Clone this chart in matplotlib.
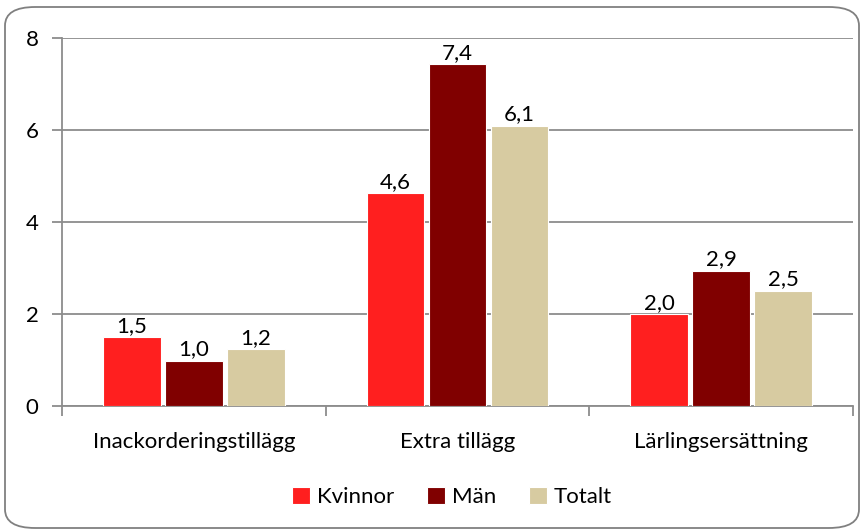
import matplotlib.pyplot as plt
import numpy as np
from matplotlib.patches import FancyBboxPatch

plt.rcParams['font.family'] = ['Lato', 'DejaVu Sans']

# data
categories = ['Inackorderingstillägg', 'Extra tillägg', 'Lärlingsersättning']
series_names = ['Kvinnor', 'Män', 'Totalt']
kvinnor = [1.5, 4.63, 2.0]
man = [0.98, 7.43, 2.94]
totalt = [1.23, 6.09, 2.51]
colors = ['#FF1F1F', '#800000', '#D7CBA1']

fs = 16

fig = plt.figure(figsize=(8.63, 5.31), dpi=100)
ax = fig.add_axes([62 / 863, 1 - 406 / 531, (853 - 62) / 863, (406 - 38) / 531])

# rounded frame round the whole chart
frame = FancyBboxPatch((5 / 863, 3 / 531), 854 / 863, 521 / 531,
                       boxstyle='round,pad=0,rounding_size=0.035',
                       transform=fig.transFigure, fill=False,
                       edgecolor='#808080', linewidth=1.3, zorder=0)
fig.patches.append(frame)

x = np.arange(len(categories))
width = 0.218
step = 0.235
for i, (vals, name) in enumerate(zip([kvinnor, man, totalt], series_names)):
    pos = x + (i - 1) * step
    bars = ax.bar(pos, vals, width, color=colors[i], edgecolor='white',
                  linewidth=0.8, label=name, zorder=3)
    for b, v in zip(bars, vals):
        ax.text(b.get_x() + b.get_width() / 2, v + 0.03,
                f'{v:.1f}'.replace('.', ','), ha='center', va='bottom',
                fontsize=fs, color='black', zorder=4)

ax.set_xlim(-0.5, 2.5)
ax.set_ylim(0, 8)
ax.set_yticks([0, 2, 4, 6, 8])
ax.yaxis.grid(True, color='#8C8C8C', linewidth=1.3, zorder=0)
ax.set_axisbelow(True)

ax.set_xticks(x)
ax.set_xticklabels(categories)
ax.set_xticks([-0.5, 0.5, 1.5, 2.5], minor=True)
ax.tick_params(axis='x', which='major', length=0, pad=19, labelsize=fs)
ax.tick_params(axis='x', which='minor', length=7, color='#8C8C8C', width=1.3)
ax.tick_params(axis='y', length=7, color='#8C8C8C', width=1.3, labelsize=fs, pad=10)

for s in ['top', 'right']:
    ax.spines[s].set_visible(False)
for s in ['left', 'bottom']:
    ax.spines[s].set_color('#8C8C8C')
    ax.spines[s].set_linewidth(1.3)

ax.legend(loc='center', bbox_to_anchor=(452 / 863, 1 - 497 / 531),
          bbox_transform=fig.transFigure, ncol=3, frameon=False,
          fontsize=fs, handlelength=0.8, handleheight=0.8,
          handletextpad=0.3, columnspacing=1.5)

fig.savefig('out.png', dpi=100)
